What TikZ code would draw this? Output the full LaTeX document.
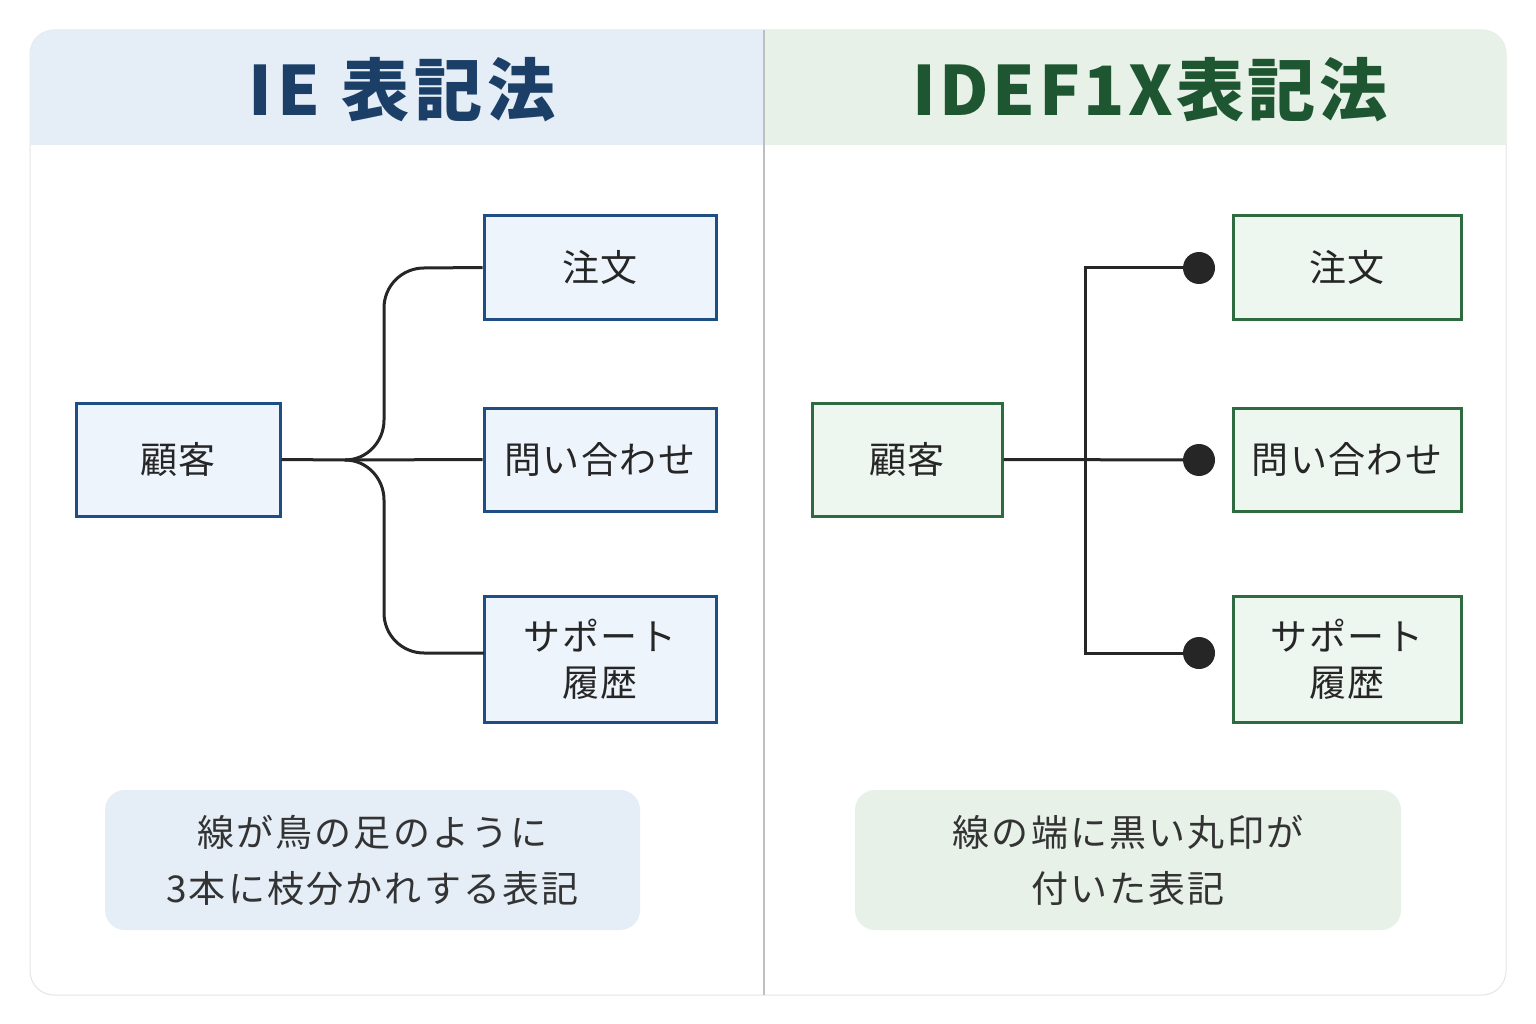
\documentclass[tikz,border=0pt]{standalone}
\usepackage{fontspec}
\setmainfont{Noto Sans CJK JP}
\definecolor{bhead}{HTML}{E5EDF7}
\definecolor{ghead}{HTML}{E7F1E8}
\definecolor{bdark}{HTML}{1B3F66}
\definecolor{gdark}{HTML}{1E5632}
\definecolor{bbord}{HTML}{1F4E85}
\definecolor{gbord}{HTML}{2E6B40}
\definecolor{bfill}{HTML}{EEF4FC}
\definecolor{gfill}{HTML}{EEF6F0}
\begin{document}
\begin{tikzpicture}[x=1pt,y=-1pt,
  bbox/.style={draw=bbord,line width=3pt,fill=bfill,font=\fontsize{37}{46}\selectfont\addfontfeature{LetterSpace=4},align=center,text=black!85},
  gbox/.style={draw=gbord,line width=3pt,fill=gfill,font=\fontsize{37}{46}\selectfont\addfontfeature{LetterSpace=4},align=center,text=black!85},
  link/.style={line width=3pt,draw=black!85},
  note/.style={font=\fontsize{37}{56}\selectfont\addfontfeature{LetterSpace=6},align=center,text=black!80}]
\useasboundingbox (0,0) rectangle (1536,1024);
\fill[white] (0,0) rectangle (1536,1024);
\draw[black!10,line width=1pt,fill=white,rounded corners=24] (30,30) rectangle (1506,995);
\begin{scope}
\clip[rounded corners=24] (30,30) rectangle (1506,995);
\fill[bhead] (30,30) rectangle (763,145);
\fill[ghead] (765,30) rectangle (1506,145);
\end{scope}
\draw[black!25,line width=2pt] (764,30) -- (764,995);
\node[text=bdark,font=\fontsize{68}{70}\selectfont\bfseries\addfontfeature{LetterSpace=8}] (t1) at (402,90) {IE 表記法};
\node[text=gdark,font=\fontsize{68}{70}\selectfont\bfseries\addfontfeature{LetterSpace=5}] (t2) at (1150,90) {IDEF1X表記法};
% left
\node[bbox,minimum width=204,minimum height=113] (k1) at (178,459.5) {顧客};
\node[bbox,minimum width=232,minimum height=103] (a1) at (600,267.5) {注文};
\node[bbox,minimum width=232,minimum height=103] (b1) at (600,459.5) {問い合わせ};
\node[bbox,minimum width=232,minimum height=126] (c1) at (600,659) {サポート\\履歴};
\coordinate (j1) at (345,460);
\coordinate (e3) at (484,653);
\draw[link] (k1.east) -- (j1) -- (b1.west);
\draw[link] (j1) to[out=0,in=-90] (384,420) -- (384,308) to[out=90,in=180] (424,268) -- (a1.west);
\draw[link] (j1) to[out=0,in=90] (384,500) -- (384,613) to[out=-90,in=180] (424,653) -- (e3);
% right
\node[gbox,minimum width=190,minimum height=113] (k2) at (907,459.5) {顧客};
\node[gbox,minimum width=228,minimum height=103] (a2) at (1347,267.5) {注文};
\node[gbox,minimum width=228,minimum height=103] (b2) at (1347,459.5) {問い合わせ};
\node[gbox,minimum width=228,minimum height=126] (c2) at (1347,659) {サポート\\履歴};
\coordinate (d1) at (1199,268);
\coordinate (d2) at (1199,460);
\coordinate (d3) at (1199,653);
\draw[link] (k2.east) -- (d2);
\draw[link] (d1) -- (1085,268) -- (1085,653) -- (d3);
\foreach \d in {d1,d2,d3} \fill[black!85] (\d) circle (16);
% notes
\node[fill=bhead,rounded corners=20,minimum width=535,minimum height=140,note] (n1) at (372.5,860) {線が鳥の足のように\\3本に枝分かれする表記};
\node[fill=ghead,rounded corners=20,minimum width=546,minimum height=140,note] (n2) at (1128,860) {線の端に黒い丸印が\\付いた表記};
\end{tikzpicture}
\end{document}
